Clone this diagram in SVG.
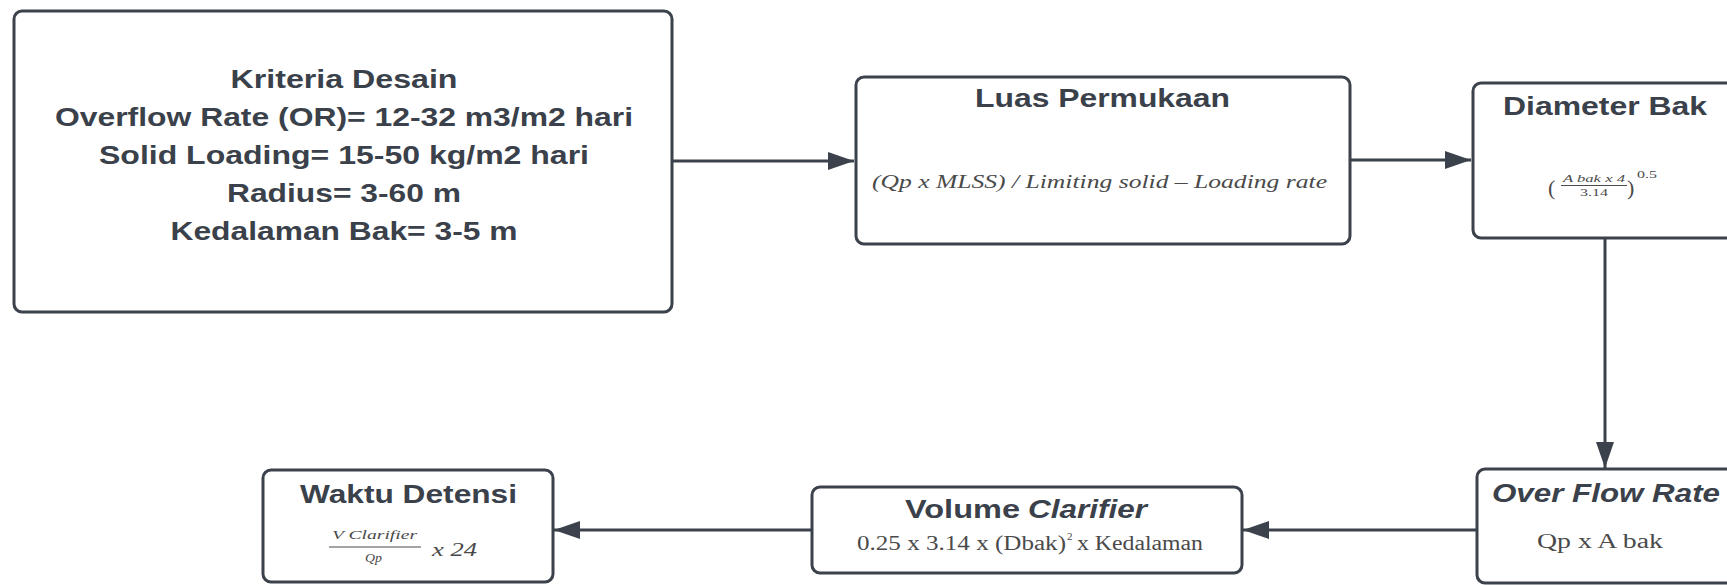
<svg xmlns="http://www.w3.org/2000/svg" width="1727" height="585" viewBox="0 0 1727 585">
<style>
.box{fill:#fff;stroke:#3b424b;stroke-width:3}
.t{font-family:"Liberation Sans",Arial,sans-serif;font-weight:bold;fill:#3a414a}
.f{font-family:"Liberation Serif","Times New Roman",serif;fill:#4a4a4a}
.c{fill:none;stroke:#3b424b;stroke-width:3}
</style>
<defs>
<marker id="ah" markerUnits="userSpaceOnUse" markerWidth="28" markerHeight="20" refX="26" refY="10" orient="auto">
<path d="M0,1 L26,10 L0,19 Z" fill="#3b424b"/>
</marker>
</defs>
<rect width="1727" height="585" fill="#fff"/>
<g id="connectors">
<path class="c" d="M672,161 H854" marker-end="url(#ah)"/>
<path class="c" d="M1350,160 H1471" marker-end="url(#ah)"/>
<path class="c" d="M1605,238 V468" marker-end="url(#ah)"/>
<path class="c" d="M1477,530 H1243" marker-end="url(#ah)"/>
<path class="c" d="M812,530 H554" marker-end="url(#ah)"/>
</g>
<g id="kriteria">
<rect class="box" x="14" y="11" width="658" height="301" rx="8"/>
<text class="t" font-size="25" text-anchor="middle" x="344" y="88" textLength="227" lengthAdjust="spacingAndGlyphs">Kriteria Desain</text>
<text class="t" font-size="25" text-anchor="middle" x="344" y="126" textLength="578" lengthAdjust="spacingAndGlyphs">Overflow Rate (OR)= 12-32 m3/m2 hari</text>
<text class="t" font-size="25" text-anchor="middle" x="344" y="164" textLength="490" lengthAdjust="spacingAndGlyphs">Solid Loading= 15-50 kg/m2 hari</text>
<text class="t" font-size="25" text-anchor="middle" x="344" y="202" textLength="234" lengthAdjust="spacingAndGlyphs">Radius= 3-60 m</text>
<text class="t" font-size="25" text-anchor="middle" x="344" y="240" textLength="347" lengthAdjust="spacingAndGlyphs">Kedalaman Bak= 3-5 m</text>
</g>
<g id="luas">
<rect class="box" x="856" y="77" width="494" height="167" rx="8"/>
<text class="t" font-size="25" x="975" y="107" textLength="255" lengthAdjust="spacingAndGlyphs">Luas Permukaan</text>
<text class="f" font-style="italic" font-size="18" x="872" y="188" textLength="455" lengthAdjust="spacingAndGlyphs">(Qp x MLSS) / Limiting solid – Loading rate</text>
</g>
<g id="diameter">
<rect class="box" x="1473" y="83" width="280" height="155" rx="8"/>
<text class="t" font-size="26" x="1503" y="115" textLength="204" lengthAdjust="spacingAndGlyphs">Diameter Bak</text>
<text class="f" font-size="22" x="1548" y="195">(</text>
<text class="f" font-style="italic" font-size="11" x="1563" y="182" textLength="62" lengthAdjust="spacingAndGlyphs">A bak x 4</text>
<line x1="1561" y1="185.5" x2="1627" y2="185.5" stroke="#4a4a4a" stroke-width="1"/>
<text class="f" font-size="11" x="1580" y="196" textLength="28" lengthAdjust="spacingAndGlyphs">3.14</text>
<text class="f" font-size="22" x="1627" y="195">)</text>
<text class="f" font-size="11" x="1637" y="178" textLength="20" lengthAdjust="spacingAndGlyphs">0.5</text>
</g>
<g id="overflow">
<rect class="box" x="1477" y="469" width="280" height="114" rx="8"/>
<text class="t" font-style="italic" font-size="26" x="1492" y="502" textLength="228" lengthAdjust="spacingAndGlyphs">Over Flow Rate</text>
<text class="f" font-size="20" x="1537" y="548" textLength="126" lengthAdjust="spacingAndGlyphs">Qp x A bak</text>
</g>
<g id="volume">
<rect class="box" x="812" y="487" width="430" height="86" rx="8"/>
<text class="t" font-size="26" x="905" y="518" textLength="115" lengthAdjust="spacingAndGlyphs">Volume</text>
<text class="t" font-style="italic" font-size="26" x="1028" y="518" textLength="119" lengthAdjust="spacingAndGlyphs">Clarifier</text>
<text class="f" font-size="20" x="857" y="550" textLength="209" lengthAdjust="spacingAndGlyphs">0.25 x 3.14 x (Dbak)</text>
<text class="f" font-size="11" x="1067" y="540">2</text>
<text class="f" font-size="20" x="1077" y="550" textLength="126" lengthAdjust="spacingAndGlyphs">x Kedalaman</text>
</g>
<g id="waktu">
<rect class="box" x="263" y="470" width="290" height="112" rx="8"/>
<text class="t" font-size="26" x="300" y="503" textLength="217" lengthAdjust="spacingAndGlyphs">Waktu Detensi</text>
<text class="f" font-style="italic" font-size="12" x="332" y="539" textLength="85" lengthAdjust="spacingAndGlyphs">V Clarifier</text>
<line x1="329" y1="547" x2="421" y2="547" stroke="#4a4a4a" stroke-width="1.2"/>
<text class="f" font-style="italic" font-size="12" x="365" y="562" textLength="17" lengthAdjust="spacingAndGlyphs">Qp</text>
<text class="f" font-style="italic" font-size="19" x="432" y="556" textLength="45" lengthAdjust="spacingAndGlyphs">x 24</text>
</g>
</svg>
